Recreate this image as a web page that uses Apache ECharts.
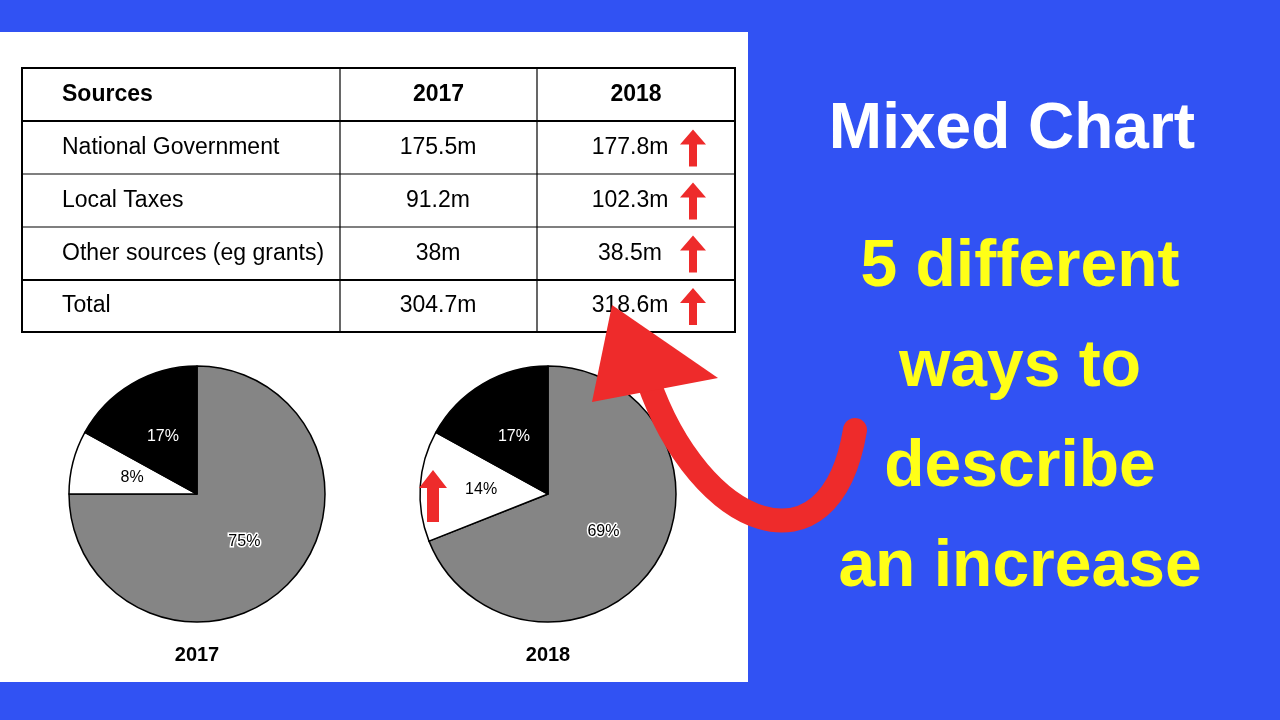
<!DOCTYPE html>
<html><head><meta charset="utf-8">
<script src="https://cdn.jsdelivr.net/npm/echarts@6/dist/echarts.min.js"></script>
<style>html,body{margin:0;padding:0;background:#3152f3}#c{width:1280px;height:720px}</style>
</head><body><div id="c"></div>
<script>
const headers = ['Sources','2017','2018'];
const sources = ['National Government','Local Taxes','Other sources (eg grants)','Total'];
const values2017 = ['175.5m','91.2m','38m','304.7m'];
const values2018 = ['177.8m','102.3m','38.5m','318.6m'];
const pieNames = ['National Government','Local Taxes','Other sources'];
const pie2017 = [75, 8, 17];
const pie2018 = [69, 14, 17];
const pieYears = ['2017','2018'];

const chart = echarts.init(document.getElementById('c'));
const F = 'Liberation Sans, Arial, sans-serif';
const g = [];
g.push({type:'rect',shape:{x:0,y:32,width:748,height:650},style:{fill:'#fff'},z:0});
// table
const colX = [22,340,537,735], rowY = [68,121,174,227,280,332];
g.push({type:'rect',shape:{x:22,y:68,width:713,height:264},style:{fill:'none',stroke:'#000',lineWidth:2},z:2});
for(let i=1;i<5;i++) g.push({type:'line',shape:{x1:22,y1:rowY[i],x2:735,y2:rowY[i]},style:{stroke:'#000',lineWidth:i===1||i===4?2:1.2},z:2});
[340,537].forEach(x=>g.push({type:'line',shape:{x1:x,y1:68,x2:x,y2:332},style:{stroke:'#000',lineWidth:1.2},z:2}));
headers.forEach((h,j)=>g.push({type:'text',x:j===0?62:(colX[j]+colX[j+1])/2,y:95,style:{text:h,font:'bold 23px '+F,fill:'#000',textAlign:j===0?'left':'center',textVerticalAlign:'middle'},z:3}));
sources.forEach((s,i)=>{
  const cy=(rowY[i+1]+rowY[i+2])/2;
  g.push({type:'text',x:62,y:cy,style:{text:s,font:'23px '+F,fill:'#000',textVerticalAlign:'middle'},z:3});
  g.push({type:'text',x:438,y:cy,style:{text:values2017[i],font:'23px '+F,fill:'#000',textAlign:'center',textVerticalAlign:'middle'},z:3});
  g.push({type:'text',x:630,y:cy,style:{text:values2018[i],font:'23px '+F,fill:'#000',textAlign:'center',textVerticalAlign:'middle'},z:3});
  const ax=693, top=cy-18;
  g.push({type:'polygon',shape:{points:[[ax,top],[ax-13,top+15],[ax-4,top+15],[ax-4,top+37],[ax+4,top+37],[ax+4,top+15],[ax+13,top+15]]},style:{fill:'#ee2b2b'},z:4});
});
// small arrow in pie
{const ax=433,top=470;g.push({type:'polygon',shape:{points:[[ax,top],[ax-14,top+18],[ax-6,top+18],[ax-6,top+52],[ax+6,top+52],[ax+6,top+18],[ax+14,top+18]]},style:{fill:'#ee2b2b'},z:10});}
// big curved arrow
g.push({type:'bezierCurve',shape:{x1:648,y1:380,cpx1:700,cpy1:530,cpx2:830,cpy2:580,x2:855,y2:430},style:{stroke:'#ee2b2b',lineWidth:24,fill:'none',lineCap:'round'},z:10});
g.push({type:'polygon',shape:{points:[[612,305],[592,402],[718,378]]},style:{fill:'#ee2b2b'},z:10});
// right texts
g.push({type:'text',x:1012,y:130,style:{text:'Mixed Chart',font:'bold 64px '+F,fill:'#fff',textAlign:'center',textVerticalAlign:'middle'},z:3});
[['5 different',268],['ways to',368],['describe',468],['an increase',568]].forEach(([t,y])=>g.push({type:'text',x:1020,y:y,style:{text:t,font:'bold 66px '+F,fill:'#ffff17',textAlign:'center',textVerticalAlign:'middle'},z:3}));
pieYears.forEach((y,k)=>g.push({type:'text',x:k?548:197,y:655,style:{text:y,font:'bold 20px '+F,fill:'#000',textAlign:'center',textVerticalAlign:'middle'},z:3}));

const colors=['#858585','#ffffff','#000000'];
function pieSeries(vals,cx){
  return {type:'pie',center:[cx,494],radius:[0,128],startAngle:90,clockwise:true,animation:false,
    data:vals.map((v,i)=>({name:pieNames[i],value:v,itemStyle:{color:colors[i]},
      label:{color:i===2?'#fff':'#000',textBorderColor:i===0?'#fff':'transparent',textBorderWidth:i===0?3:0}})),
    itemStyle:{borderColor:'#000',borderWidth:1.5},
    label:{position:'inside',formatter:p=>p.value+'%',fontSize:16,fontFamily:F},
    labelLine:{show:false},emphasis:{disabled:true},z:5};
}
chart.setOption({animation:false,series:[pieSeries(pie2017,197),pieSeries(pie2018,548)],graphic:g});
</script></body></html>
